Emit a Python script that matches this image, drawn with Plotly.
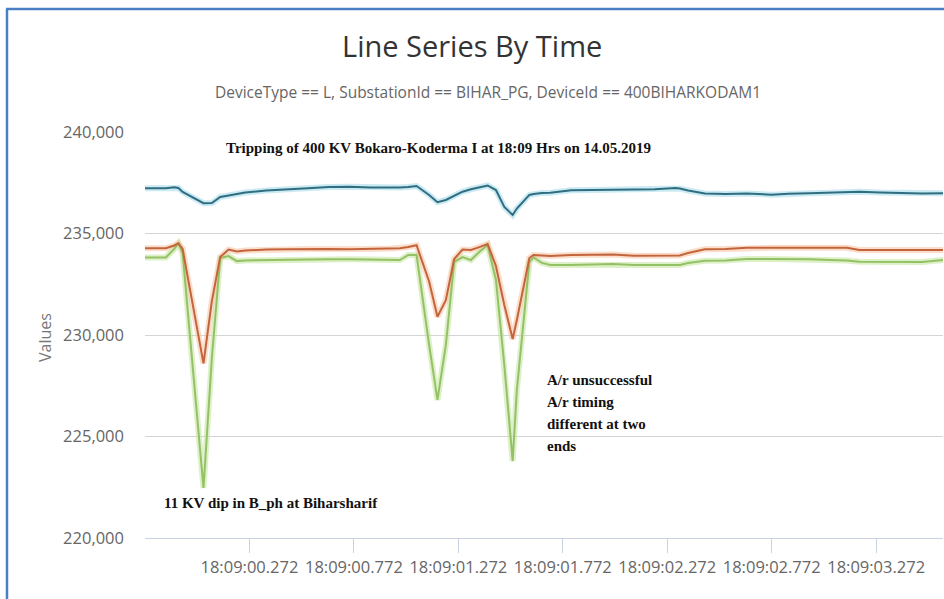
import pandas as pd
import plotly.graph_objects as go

# ---------------- data ----------------
base_time = "2019-05-14 18:09:00"
time_offsets_ms = [-228, -128, -88, -68, -48, 52, 92, 132, 172, 212, 252, 352, 452, 552, 652,
                   752, 852, 952, 992, 1032, 1072, 1132, 1172, 1212, 1252, 1292, 1332, 1372,
                   1412, 1452, 1492, 1532, 1552, 1612, 1632, 1672, 1712, 1812, 1912, 2012,
                   2112, 2212, 2312, 2332, 2372, 2452, 2552, 2652, 2772, 2852, 2952, 3052,
                   3132, 3192, 3292, 3412, 3492, 3592]

series_top = [237230, 237230, 237280, 237240, 237050, 236490, 236500, 236800, 236870, 236960,
              237020, 237120, 237190, 237230, 237290, 237305, 237265, 237255, 237265, 237290,
              237340, 236900, 236540, 236650, 236870, 237060, 237180, 237290, 237365, 237140,
              236305, 235910, 236230, 236900, 236950, 237000, 237010, 237125, 237140, 237165,
              237180, 237180, 237240, 237215, 237120, 236970, 236950, 236970, 236910, 236960,
              236980, 237010, 237060, 237060, 237020, 236980, 236970, 236980]

series_mid = [234270, 234270, 234410, 234520, 234240, 228600, 231670, 233840, 234210, 234110,
              234160, 234210, 234220, 234240, 234240, 234220, 234240, 234260, 234270, 234330,
              234420, 232640, 230900, 231720, 233740, 234210, 234190, 234330, 234480, 233400,
              231480, 229800, 230740, 233790, 233940, 233920, 233890, 233940, 233970, 233970,
              233910, 233910, 233910, 233920, 234040, 234220, 234240, 234300, 234300, 234300,
              234300, 234310, 234300, 234190, 234190, 234180, 234180, 234190]

series_low = [233820, 233820, 234240, 234510, 234040, 222470, 228870, 233790, 233890, 233640,
              233670, 233690, 233720, 233720, 233730, 233730, 233720, 233690, 233690, 233940,
              233940, 229530, 226800, 229500, 233600, 233840, 233690, 234090, 234430, 232710,
              228520, 223790, 227290, 233600, 233820, 233550, 233450, 233450, 233470, 233500,
              233450, 233450, 233450, 233450, 233550, 233660, 233670, 233740, 233740, 233740,
              233730, 233690, 233670, 233610, 233610, 233580, 233600, 233690]

y_tick_values = [220000, 225000, 230000, 235000, 240000]
x_tick_labels = ["18:09:00.272", "18:09:00.772", "18:09:01.272", "18:09:01.772",
                 "18:09:02.272", "18:09:02.772", "18:09:03.272"]

title_text = "Line Series By Time"
subtitle_text = "DeviceType == L, SubstationId == BIHAR_PG, DeviceId == 400BIHARKODAM1"
y_title = "Values"
note_trip = "Tripping of 400 KV Bokaro-Koderma I at 18:09 Hrs on 14.05.2019"
note_dip = "11 KV dip in B_ph at Biharsharif"
note_ar_lines = ["A/r unsuccessful", "A/r timing", "different at two", "ends"]

# ---------------- build ----------------
t0 = pd.Timestamp(base_time)
times = [t0 + pd.Timedelta(milliseconds=m) for m in time_offsets_ms]
x_tick_vals = [pd.Timestamp("2019-05-14 " + s) for s in x_tick_labels]

fig = go.Figure()

styles = [
    (series_low, "#95c166", "rgba(195,228,155,0.55)", "Series C"),
    (series_mid, "#c4643c", "rgba(245,195,160,0.55)", "Series B"),
    (series_top, "#2f6e80", "rgba(170,220,235,0.6)", "Series A"),
]
for vals, col, glow, name in styles:
    fig.add_trace(go.Scatter(x=times, y=vals, mode="lines", showlegend=False,
                             line=dict(color=glow, width=6), hoverinfo="skip"))
for vals, col, glow, name in styles:
    fig.add_trace(go.Scatter(x=times, y=vals, mode="lines", name=name, showlegend=False,
                             line=dict(color=col, width=2)))

W, H = 944, 599
L, R, T, B = 145, 1, 132, 61
pw, ph = W - L - R, H - T - B


def px(x):
    return (x - L) / pw


def py(y):
    return (H - B - y) / ph


fig.update_layout(
    width=W, height=H,
    margin=dict(l=L, r=R, t=T, b=B, autoexpand=False),
    paper_bgcolor="white", plot_bgcolor="white",
    showlegend=False,
    font=dict(family="Open Sans, sans-serif", color="#666666"),
)

fig.update_xaxes(
    type="date",
    range=[times[0], times[-1]],
    tickvals=x_tick_vals, ticktext=x_tick_labels,
    showgrid=False, zeroline=False,
    showline=True, linecolor="#c8d2e0", linewidth=1,
    ticks="outside", ticklen=14, tickcolor="#c8d2e0", tickwidth=1,
    tickfont=dict(size=16.5, color="#666666"),
)
fig.update_yaxes(
    range=[220000, 240000],
    tickvals=y_tick_values, tickformat=",",
    showgrid=True, gridcolor="#d4d4d4", gridwidth=1,
    zeroline=False, showline=False,
    ticks="", ticklabelstandoff=20,
    tickfont=dict(size=16.5, color="#666666"),
)

serif = dict(color="#111111", family="Liberation Serif, serif", size=15)
anns = [
    dict(text=title_text, x=px(472), y=py(45), font=dict(size=29, color="#333333")),
    dict(text=subtitle_text, x=px(488), y=py(92), font=dict(size=15.5, color="#666666")),
    dict(text=y_title, x=px(45), y=py(338), textangle=-90, font=dict(size=16, color="#777777")),
    dict(text="<b>" + note_trip + "</b>", x=px(438), y=py(148), font=serif),
    dict(text="<b>" + note_dip + "</b>", x=px(271), y=py(503), font=serif),
]
for i, line in enumerate(note_ar_lines):
    anns.append(dict(text="<b>" + line + "</b>", x=px(545), y=py(380 + 22 * i),
                     xanchor="left", font=serif))
for a in anns:
    a.setdefault("xanchor", "center")
    a.setdefault("yanchor", "middle")
    fig.add_annotation(xref="paper", yref="paper", showarrow=False, **a)

# blue frame (top and left edges visible in reference)
fig.add_shape(type="line", xref="paper", yref="paper", x0=px(7), x1=px(7), y0=py(599), y1=py(9),
              line=dict(color="#4a7fc1", width=2.5))
fig.add_shape(type="line", xref="paper", yref="paper", x0=px(6), x1=px(944), y0=py(9), y1=py(9),
              line=dict(color="#4a7fc1", width=2.5))

fig.write_html("out.html", config={"displayModeBar": False},
               post_script="document.body.style.margin='0px';document.body.style.overflow='hidden';")
